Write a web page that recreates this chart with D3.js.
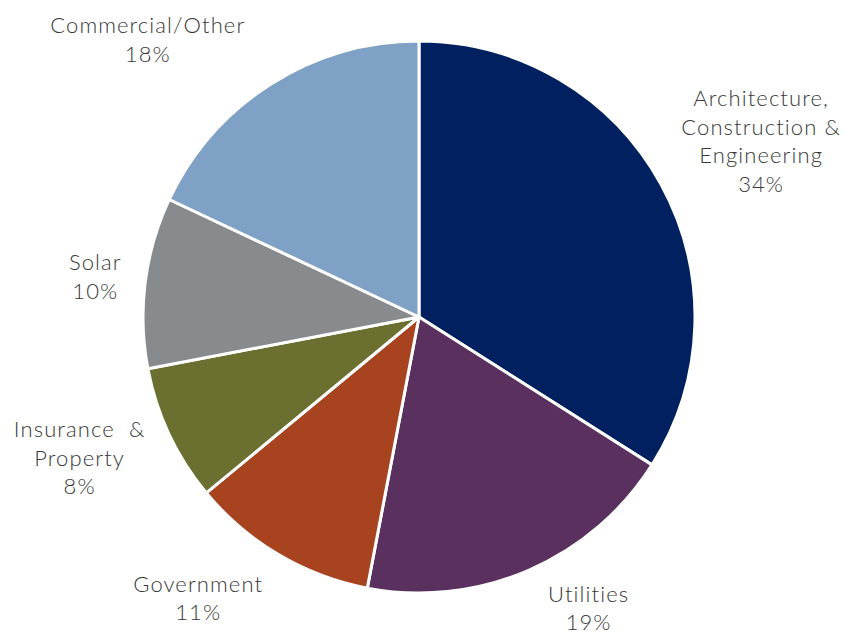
<!DOCTYPE html>
<html>
<head>
<meta charset="utf-8">
<script src="https://cdn.jsdelivr.net/npm/d3@7"></script>
<style>
  html, body { margin: 0; padding: 0; background: #ffffff; }
  svg { display: block; }
  .lbl { font-family: Lato, "Open Sans", sans-serif; font-weight: 300; font-size: 22px; fill: #383838; letter-spacing: 1.1px; }
</style>
</head>
<body>
<svg id="chart" width="845" height="635"></svg>
<script>
// Segment shares, clockwise from 12 o'clock
const segments = ["Architecture, Construction & Engineering", "Utilities", "Government", "Insurance & Property", "Solar", "Commercial/Other"];
const shares = [34, 19, 11, 8, 10, 18];
// Label text, one entry per line (value line is appended)
const labelLines = [
  ["Architecture,", "Construction &", "Engineering"],
  ["Utilities"],
  ["Government"],
  ["Insurance\u00a0 &", "Property"],
  ["Solar"],
  ["Commercial/Other"]
];
const colors = ["#002060", "#59305e", "#a8431f", "#6b6f2f", "#878b8e", "#7ea1c5"];

const width = 845, height = 635;
const cx = 419, cy = 317, R = 276;
const lineH = 28.5;
// fine nudges for the label boxes, applied after the outside-end placement
const labelNudge = [[4, -2], [32, -16], [-32, -7], [-3, -8], [6, 1], [-55, 4]];

const svg = d3.select("#chart");
const g = svg.append("g").attr("transform", `translate(${cx},${cy})`);

const pie = d3.pie().sort(null).value(d => d.value);
const arcs = pie(shares.map((v, i) => ({ name: segments[i], value: v, i })));
const arc = d3.arc().innerRadius(0).outerRadius(R);

g.selectAll("path.slice")
  .data(arcs)
  .join("path")
  .attr("class", "slice")
  .attr("d", arc)
  .attr("fill", d => colors[d.data.i])
  .attr("stroke", "#ffffff")
  .attr("stroke-width", 3)
  .attr("stroke-linejoin", "round");

// Labels: box placed just outside the rim along the mid-angle
const gap = 30;
const lbls = g.selectAll("g.lab")
  .data(arcs)
  .join("g")
  .attr("class", "lab");

lbls.each(function (d) {
  const grp = d3.select(this);
  const lines = labelLines[d.data.i].concat([d.data.value + "%"]);
  const t = grp.append("text").attr("class", "lbl").attr("text-anchor", "middle");
  lines.forEach((s, k) => {
    t.append("tspan").attr("x", 0).attr("y", k * lineH).text(s);
  });
  const bb = t.node().getBBox();
  const a = (d.startAngle + d.endAngle) / 2;
  const ux = Math.sin(a), uy = -Math.cos(a);
  const boxCx = (R + gap) * ux + ux * bb.width / 2 + labelNudge[d.data.i][0];
  const boxCy = (R + gap) * uy + uy * bb.height / 2 + labelNudge[d.data.i][1];
  const offY = boxCy - (bb.y + bb.height / 2);
  grp.attr("transform", `translate(${boxCx},${offY})`);
});
</script>
</body>
</html>
